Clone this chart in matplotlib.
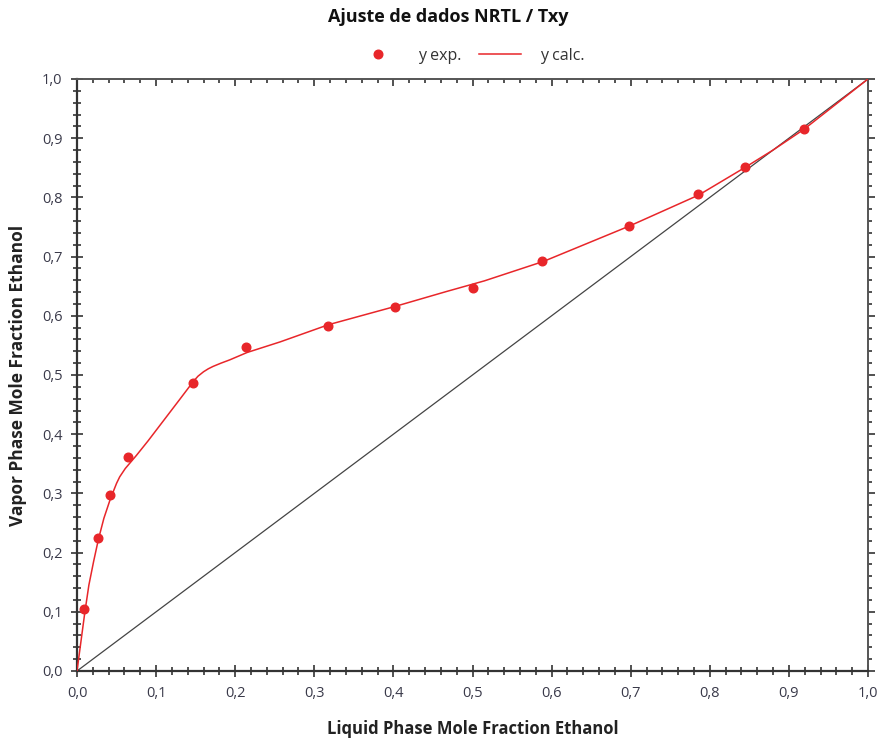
import matplotlib
matplotlib.use("Agg")
import matplotlib.pyplot as plt
from matplotlib.ticker import MultipleLocator, FuncFormatter
from matplotlib.lines import Line2D

plt.rcParams['font.family'] = ['Open Sans', 'DejaVu Sans']

# experimental data
x_exp = [0.0088, 0.0265, 0.042, 0.0645, 0.1467, 0.2137, 0.317, 0.402, 0.5006,
         0.588, 0.698, 0.785, 0.8445, 0.919]
y_exp = [0.105, 0.225, 0.297, 0.3615, 0.486, 0.547, 0.583, 0.615, 0.647,
         0.6926, 0.752, 0.806, 0.851, 0.915]

# NRTL calculated curve
x_calc = [0.0, 0.005, 0.010, 0.015, 0.021, 0.027, 0.034, 0.042, 0.050, 0.054,
          0.061, 0.075, 0.090, 0.110, 0.130, 0.147, 0.153, 0.160, 0.166, 0.172,
          0.182, 0.193, 0.215, 0.257, 0.318, 0.400, 0.467, 0.515, 0.590, 0.699,
          0.786, 0.845, 0.880, 0.919, 1.0]
y_calc = [0.0, 0.050, 0.100, 0.145, 0.185, 0.222, 0.258, 0.290, 0.317, 0.328,
          0.342, 0.364, 0.389, 0.424, 0.459, 0.489, 0.498, 0.5055, 0.5105, 0.5145,
          0.520, 0.5255, 0.538, 0.556, 0.585, 0.615, 0.641, 0.659, 0.692, 0.752,
          0.804, 0.851, 0.880, 0.915, 1.0]

# diagonal reference
x_diag = [0.0, 1.0]
y_diag = [0.0, 1.0]

title = "Ajuste de dados NRTL / Txy"
xlabel = "Liquid Phase Mole Fraction Ethanol"
ylabel = "Vapor Phase Mole Fraction Ethanol"

red = "#e8262a"
W, H = 881, 742
fig = plt.figure(figsize=(W / 100, H / 100), dpi=100)
ax = fig.add_axes([77 / W, 1 - 671 / H, (868 - 77) / W, (671 - 79) / H])

ax.plot(x_diag, y_diag, color="#444444", lw=0.9, zorder=2)
ax.plot(x_calc, y_calc, color=red, lw=1.1, zorder=3)
ax.plot(x_exp, y_exp, 'o', color=red, ms=6.2, mec=red, zorder=4)

ax.set_xlim(0, 1)
ax.set_ylim(0, 1)

fmt = FuncFormatter(lambda v, p: f"{v:.1f}".replace('.', ','))
for a in (ax.xaxis, ax.yaxis):
    a.set_major_locator(MultipleLocator(0.1))
    a.set_minor_locator(MultipleLocator(0.02))
    a.set_major_formatter(fmt)

ax.tick_params(which='major', direction='inout', length=9, width=1.2,
               color='#333333', labelsize=10.5, labelcolor='#3a3a4a', pad=6)
ax.tick_params(which='minor', direction='inout', length=6, width=1.2,
               color='#333333')

for s in ax.spines.values():
    s.set_color('#555555')
    s.set_linewidth(1.4)
for s in ('left', 'bottom'):
    ax.spines[s].set_color('#333333')
    ax.spines[s].set_linewidth(1.6)

top = ax.secondary_xaxis('top')
top.xaxis.set_major_locator(MultipleLocator(0.1))
top.xaxis.set_minor_locator(MultipleLocator(0.02))
top.tick_params(which='major', direction='in', length=5, width=1.2, color='#333333',
                labeltop=False)
top.tick_params(which='minor', direction='in', length=3, width=1.2, color='#333333')
top.spines['top'].set_visible(False)

right = ax.secondary_yaxis('right')
right.yaxis.set_major_locator(MultipleLocator(0.1))
right.yaxis.set_minor_locator(MultipleLocator(0.02))
right.tick_params(which='major', direction='out', length=5, width=1.2, color='#333333',
                  labelright=False)
right.tick_params(which='minor', direction='out', length=3, width=1.2, color='#333333')
right.spines['right'].set_visible(False)

ax.set_xlabel(xlabel, fontsize=12, fontweight='bold', color='#222222', labelpad=14)
ax.set_ylabel(ylabel, fontsize=12.5, fontweight='bold', color='#222222', labelpad=11)

fig.text(448 / W, 1 - 17 / H, title, ha='center', va='center',
         fontsize=13, fontweight='bold', color='#111111')

handles = [Line2D([], [], marker='o', ls='none', color=red, ms=6.2),
           Line2D([], [], color=red, lw=1.1)]
leg = fig.legend(handles, ["y exp.", "y calc."], loc='center',
                 bbox_to_anchor=(471 / W, 1 - 56 / H), ncol=2, frameon=False,
                 fontsize=11.5, handlelength=2.6, columnspacing=1.1,
                 handletextpad=1.2)
for t in leg.get_texts():
    t.set_color('#333333')

fig.savefig("out.png", dpi=100)
